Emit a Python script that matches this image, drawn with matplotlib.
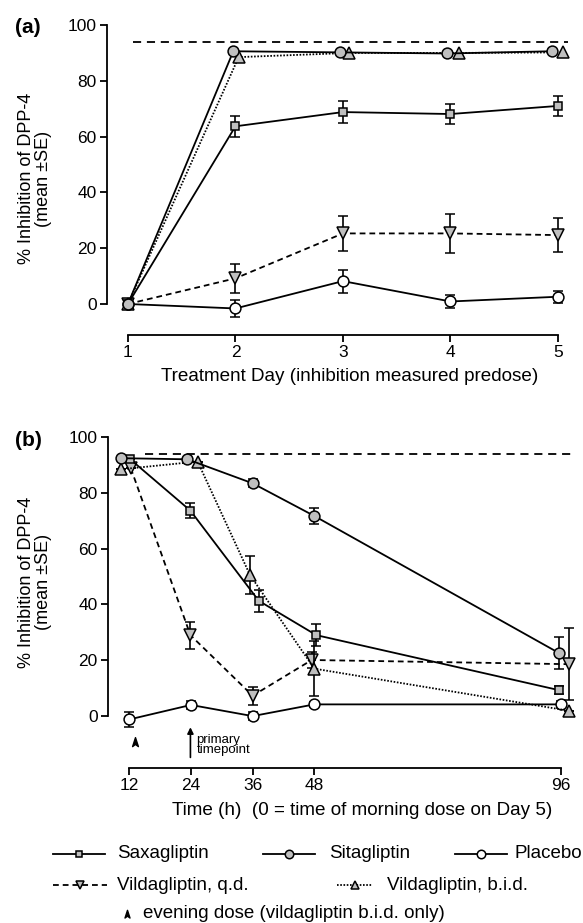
import matplotlib
matplotlib.use('Agg')
import matplotlib.pyplot as plt
from matplotlib.path import Path
from matplotlib.lines import Line2D

plt.rcParams['font.family'] = ['Liberation Sans', 'DejaVu Sans']

# ---- panel (a): treatment day, predose ----
days = [1, 2, 3, 4, 5]
days_sita = [1, 1.98, 2.97, 3.97, 4.94]
days_bid = [1, 2.03, 3.06, 4.08, 5.05]
sax_a = [0, 63.7, 68.8, 68.1, 71.0]
sax_a_err = [0, 3.8, 3.8, 3.6, 3.5]
sita_a = [0, 90.6, 90.2, 89.8, 90.6]
plac_a = [0, -1.6, 8.2, 0.9, 2.6]
plac_a_err = [0, 2.9, 4.1, 2.5, 2.1]
qd_a = [0, 9.2, 25.3, 25.3, 24.7]
qd_a_err = [0, 5.1, 6.2, 7.0, 6.0]
bid_a = [0, 88.5, 90.0, 90.0, 90.2]

# ---- panel (b): time after morning dose on day 5 ----
hours = [12, 24, 36, 48, 96]
hours_sax = [12.2, 23.9, 37.2, 48.4, 95.6]
hours_sita = [10.4, 23.3, 36.0, 48.0, 95.6]
hours_plac = [12.0, 24.0, 36.0, 48.0, 96.0]
hours_qd = [12.3, 23.9, 36.0, 47.5, 97.6]
hours_bid = [10.3, 25.3, 35.5, 48.0, 97.6]
sax_b = [92.0, 73.6, 41.3, 29.0, 9.3]
sax_b_err = [0, 2.8, 3.9, 3.9, 1.5]
sita_b = [92.4, 92.0, 83.4, 71.7, 22.6]
sita_b_err = [0, 0, 1.5, 2.9, 5.8]
plac_b = [-1.2, 4.0, 0.0, 4.2, 4.2]
plac_b_err = [2.7, 1.3, 1.5, 0.9, 1.2]
qd_b = [88.8, 29.0, 7.3, 20.1, 18.6]
qd_b_err = [0, 4.8, 3.3, 3.0, 13.0]
bid_b = [88.4, 91.2, 50.5, 17.0, 1.9]
bid_b_err = [0, 0, 6.7, 9.8, 0]

max_line = 94
day_ticks = [1, 2, 3, 4, 5]
hour_ticks = [12, 24, 36, 48, 96]
y_ticks = [0, 20, 40, 60, 80, 100]

GRAY = '#bfbfbf'
LW = 1.3
DASHED = (0, (3.2, 2.2))
DOTTED = (0, (0.9, 0.9))
MAXDASH = (0, (4.5, 3.2))

# evening dose arrowhead marker
evening_marker = Path([(0, 1), (0.6, -0.85), (0, -0.4), (-0.6, -0.85), (0, 1)],
                      [Path.MOVETO, Path.LINETO, Path.LINETO, Path.LINETO, Path.CLOSEPOLY])

STYLES = {
    'sax': dict(marker='s', ms=6.3, mfc=GRAY, ls='-'),
    'sita': dict(marker='o', ms=7.8, mfc=GRAY, ls='-'),
    'plac': dict(marker='o', ms=7.8, mfc='white', ls='-'),
    'qd': dict(marker='v', ms=8, mfc=GRAY, ls=DASHED),
    'bid': dict(marker='^', ms=8, mfc=GRAY, ls=DOTTED),
}


def _series(ax, x, y, err, key, z):
    st = STYLES[key]
    ax.errorbar(x, y, yerr=err, color='black', lw=LW, ls=st['ls'],
                marker=st['marker'], ms=st['ms'], mfc=st['mfc'], mec='black',
                mew=1.1, capsize=3.8, elinewidth=1.2, capthick=1.2, zorder=z,
                clip_on=False)


def _style_ax(ax, xb, xt):
    for s in ('top', 'right'):
        ax.spines[s].set_visible(False)
    for s in ('left', 'bottom'):
        ax.spines[s].set_linewidth(1.3)
    ax.spines['left'].set_bounds(0, 100)
    ax.spines['bottom'].set_bounds(*xb)
    ax.set_yticks(y_ticks)
    ax.set_xticks(xt)
    ax.tick_params(direction='out', length=5, width=1.3, labelsize=12.5, pad=2.5)
    ax.set_ylabel('% Inhibition of DPP-4\n(mean ±SE)', fontsize=13, linespacing=1.05)


fig = plt.figure(figsize=(5.83, 9.23), dpi=100)

# (a)
ax1 = fig.add_axes([0.1835, 0.6371, 0.792, 0.3388])
ax1.set_xlim(0.805, 5.1)
ax1.set_ylim(-11.1, 101)
_style_ax(ax1, (1, 5), day_ticks)
ax1.hlines(max_line, 1.05, 5.09, colors='black', lw=1.3, linestyles=MAXDASH)
_series(ax1, days, plac_a, plac_a_err, 'plac', 3)
_series(ax1, days, qd_a, qd_a_err, 'qd', 4)
_series(ax1, days, sax_a, sax_a_err, 'sax', 5)
_series(ax1, days_bid, bid_a, None, 'bid', 6)
_series(ax1, days_sita, sita_a, None, 'sita', 7)
ax1.set_xlabel('Treatment Day (inhibition measured predose)', fontsize=13.6, va='center')
ax1.xaxis.set_label_coords(0.526, -0.134)
ax1.yaxis.set_label_coords(-0.156, 0.5)
ax1.yaxis.label.set_va('center')
fig.text(0.048, 0.970, '(a)', fontsize=15, fontweight='bold', ha='center', va='center')

# (b)
ax2 = fig.add_axes([0.1852, 0.1679, 0.8036, 0.3617])
ax2.set_xlim(7.86, 99)
ax2.set_ylim(-18.6, 101)
_style_ax(ax2, (12, 96), hour_ticks)
ax2.hlines(max_line, 15.1, 98.1, colors='black', lw=1.3, linestyles=MAXDASH)
_series(ax2, hours_plac, plac_b, plac_b_err, 'plac', 3)
_series(ax2, hours_qd, qd_b, qd_b_err, 'qd', 4)
_series(ax2, hours_sax, sax_b, sax_b_err, 'sax', 5)
_series(ax2, hours_bid, bid_b, bid_b_err, 'bid', 6)
_series(ax2, hours_sita, sita_b, sita_b_err, 'sita', 7)
ax2.set_xlabel('Time (h)  (0 = time of morning dose on Day 5)', fontsize=13.6, va='center')
ax2.xaxis.set_label_coords(0.542, -0.126)
ax2.yaxis.set_label_coords(-0.156, 0.557)
ax2.yaxis.label.set_va('center')
fig.text(0.048, 0.523, '(b)', fontsize=15, fontweight='bold', ha='center', va='center')

# evening dose and primary timepoint markers
ax2.plot([13.2], [-9.2], marker=evening_marker, ms=7, color='black', ls='none', clip_on=False)
ax2.annotate('', xy=(23.9, -4.0), xytext=(23.9, -14.8),
             arrowprops=dict(arrowstyle='-|>', lw=1.2, color='black', mutation_scale=9,
                             shrinkA=0, shrinkB=0))
ax2.text(25.1, -10.4, 'primary\ntimepoint', fontsize=9.5, va='center', ha='left',
         linespacing=0.85)

# legend, drawn in figure pixel space
lax = fig.add_axes([0, 0, 1, 1])
lax.set_xlim(0, 583)
lax.set_ylim(923, 0)
lax.axis('off')
legend_rows = [
    ('sax', 53, 105, 117, 854, 'Saxagliptin'),
    ('sita', 263, 315, 329, 854, 'Sitagliptin'),
    ('plac', 455, 507, 514, 854, 'Placebo'),
    ('qd', 53, 107, 117, 885, 'Vildagliptin, q.d.'),
    ('bid', 337, 372, 387, 885, 'Vildagliptin, b.i.d.'),
]
for key, x0, x1, xt, yy, label in legend_rows:
    st = STYLES[key]
    lax.add_line(Line2D([x0, x1], [yy, yy], color='black', lw=LW, ls=st['ls']))
    lax.add_line(Line2D([(x0 + x1) / 2], [yy], marker=st['marker'], ms=st['ms'] * 0.78,
                        mfc=st['mfc'], mec='black', mew=1.1, ls='none'))
    lax.text(xt, yy, label, fontsize=13.5, va='center', ha='left')
lax.add_line(Line2D([127], [914], marker=evening_marker, ms=6, color='black', ls='none'))
lax.text(143, 914, 'evening dose (vildagliptin b.i.d. only)', fontsize=13.5,
         va='center', ha='left')

fig.savefig('out.png', dpi=100)
